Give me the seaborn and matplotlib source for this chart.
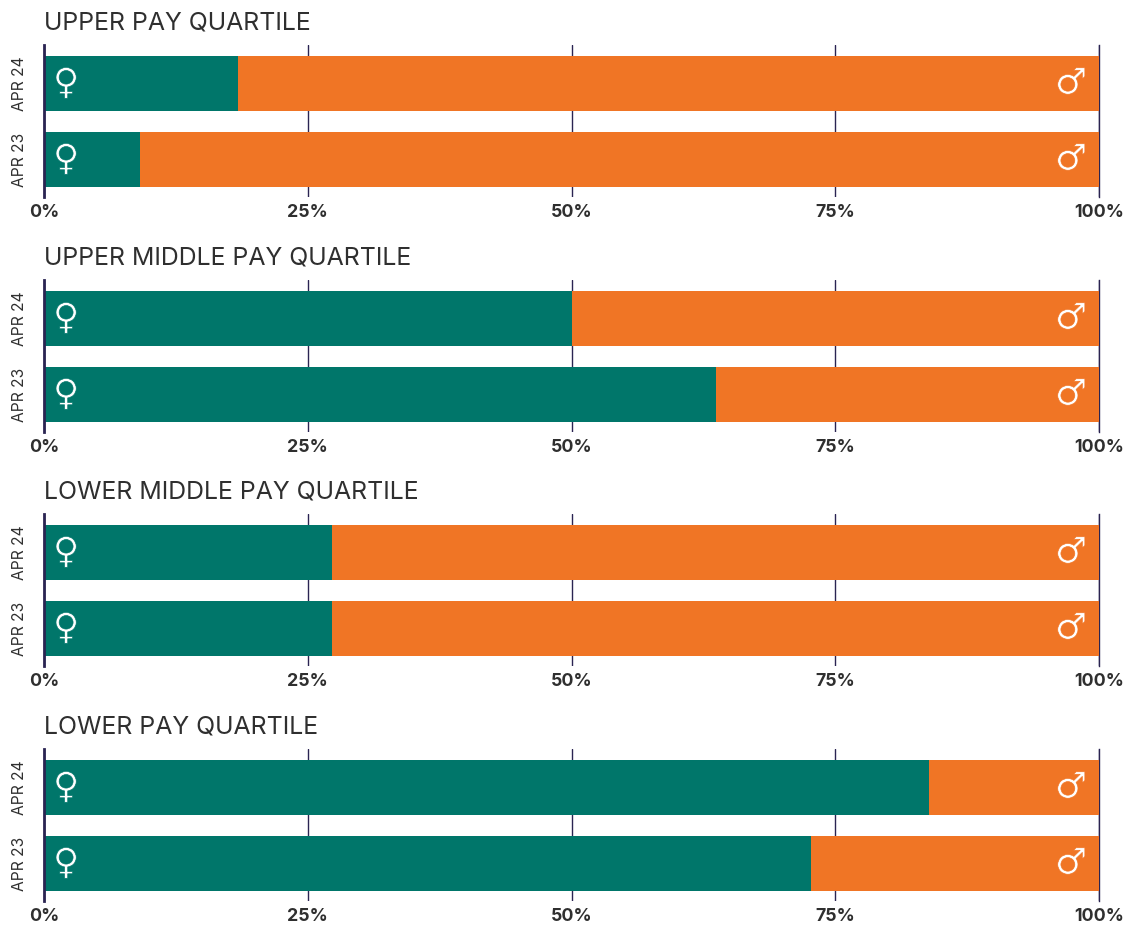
import matplotlib
matplotlib.use('Agg')
import matplotlib.patheffects as pe
import matplotlib.pyplot as plt
import pandas as pd
import seaborn as sb

# share of women in each quartile
periods = ['APR 24', 'APR 23']
quartiles = ['UPPER PAY QUARTILE', 'UPPER MIDDLE PAY QUARTILE', 'LOWER MIDDLE PAY QUARTILE', 'LOWER PAY QUARTILE']
upper = [18.4, 9.1]
upper_middle = [50.0, 63.7]
lower_middle = [27.3, 27.3]
lower = [83.9, 72.7]
female_share = [upper, upper_middle, lower_middle, lower]
ticks = [0, 25, 50, 75, 100]
tick_labels = ['0%', '25%', '50%', '75%', '100%']

GREEN = '#00766a'
ORANGE = '#f07525'
NAVY = '#2a2452'
TEXT = '#2f2f2f'
W, H = 1131, 925
LEFT, RIGHT = 44, 1099
# top edge of each panel in pixels, every panel is the same height
TOPS = [45, 280, 514, 749]
PANEL_H = 152

sb.set_theme(style='white')
plt.rcParams['font.family'] = ['Inter', 'DejaVu Sans']

fig = plt.figure(figsize=(W/100, H/100), dpi=100, facecolor='white')

for title, values, top in zip(quartiles, female_share, TOPS):
    ax = fig.add_axes([LEFT/W, 1-(top+PANEL_H)/H, (RIGHT-LEFT)/W, PANEL_H/H])
    data = pd.DataFrame({'period': periods, 'female': values})
    data['total'] = 100
    # orange full bar behind, green share on top
    sb.barplot(data=data, x='total', y='period', color=ORANGE, saturation=1, width=0.724, linewidth=0, ax=ax)
    sb.barplot(data=data, x='female', y='period', color=GREEN, saturation=1, width=0.724, linewidth=0, ax=ax)
    ax.set_xlim(0, 100)
    ax.set_ylim(1.49, -0.51)
    ax.set_xlabel('')
    ax.set_ylabel('')
    ax.set_axisbelow(True)
    ax.grid(axis='x', color=NAVY, linewidth=1)
    ax.grid(axis='y', visible=False)
    ax.set_xticks(ticks)
    ax.set_xticklabels(tick_labels, fontsize=12.8, fontweight='bold', color=TEXT)
    ax.tick_params(axis='x', length=0, pad=5)
    ax.tick_params(axis='y', length=0, pad=12)
    for label in ax.get_yticklabels():
        label.set_rotation(90)
        label.set_va('center')
        label.set_fontsize(11.2)
        label.set_color(TEXT)
    for side in ['top', 'bottom']:
        ax.spines[side].set_visible(False)
    ax.spines['left'].set_color(NAVY)
    ax.spines['left'].set_linewidth(2)
    ax.spines['left'].set_zorder(5)
    ax.spines['right'].set_color(NAVY)
    ax.spines['right'].set_linewidth(1)
    ax.spines['right'].set_zorder(0.6)
    for i in range(len(periods)):
        # stroke in the bar colour thins the heavy DejaVu glyphs
        f = ax.text(2.1, i, '\u2640', color='white', fontsize=26, family='DejaVu Sans', ha='center', va='center')
        f.set_path_effects([pe.Stroke(linewidth=0.45, foreground=GREEN)])
        m = ax.text(97.35, i, '\u2642', color='white', fontsize=26, family='DejaVu Sans', ha='center', va='center')
        m.set_path_effects([pe.Stroke(linewidth=0.45, foreground=ORANGE)])
    ax.text(0, 1+22/PANEL_H, title, transform=ax.transAxes, fontsize=17.9, color=TEXT, ha='left', va='center')

fig.savefig('out.png', dpi=100)
